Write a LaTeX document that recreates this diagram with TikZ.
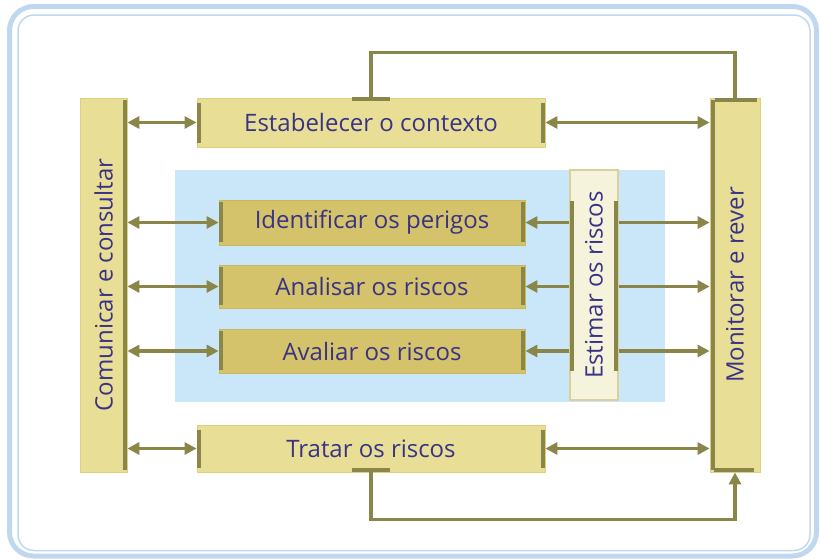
\documentclass[tikz,border=0pt]{standalone}
\usepackage{fontspec}
\setmainfont{Open Sans}
\usepackage{graphicx}
\usetikzlibrary{arrows.meta,calc}
\definecolor{boxL}{HTML}{E9DE95}
\definecolor{boxLE}{HTML}{DCD07E}
\definecolor{boxD}{HTML}{D4C36A}
\definecolor{boxDE}{HTML}{C9B85C}
\definecolor{barC}{HTML}{8A8549}
\definecolor{skyC}{HTML}{C9E7F8}
\definecolor{estF}{HTML}{F6F3DD}
\definecolor{estE}{HTML}{D9D09A}
\definecolor{txtC}{HTML}{3A3385}
\definecolor{frameC}{HTML}{BFD8EF}
\begin{document}
\begin{tikzpicture}[x=1pt,y=-1pt,
  basebox/.style={inner sep=0pt, line width=0.8pt, text=txtC, font=\fontsize{24}{27}\selectfont},
  lbox/.style={basebox, fill=boxL, draw=boxLE},
  dbox/.style={basebox, fill=boxD, draw=boxDE},
  ebox/.style={basebox, fill=estF, draw=estE, line width=1.2pt},
  barline/.style={draw=barC, line width=4pt},
  conn/.style={draw=barC, line width=3.5pt},
  both/.style={conn, {Triangle[length=12pt,width=12pt]}-{Triangle[length=12pt,width=12pt]}},
  toend/.style={conn, -{Triangle[length=12pt,width=12pt]}}]
\useasboundingbox (0,0) rectangle (820,558);
% frame
\draw[frameC, line width=5pt, rounded corners=24pt] (9.5,6.5) rectangle (816.5,556);
\draw[frameC, line width=1.5pt, rounded corners=16pt] (18,15) rectangle (810,550.5);
% blue area
\fill[skyC] (175,170) rectangle (665,402);
% boxes
\node[lbox, minimum width=47pt, minimum height=374pt] (com) at (103.5,285) {\rotatebox{90}{Comunicar e consultar}};
\node[lbox, minimum width=50pt, minimum height=374pt] (mon) at (735,285) {\rotatebox{90}{Monitorar e rever}};
\node[lbox, minimum width=348pt, minimum height=49pt] (est) at (371,122.5) {Estabelecer o contexto};
\node[lbox, minimum width=348pt, minimum height=47pt] (trt) at (371,448.5) {Tratar os riscos};
\node[dbox, minimum width=306pt, minimum height=45pt] (idf) at (372,222.5) {Identificar os perigos};
\node[dbox, minimum width=306pt, minimum height=43pt] (ana) at (372,286.5) {Analisar os riscos};
\node[dbox, minimum width=306pt, minimum height=44pt] (ava) at (372,351) {Avaliar os riscos};
\node[ebox, minimum width=48pt, minimum height=230pt] (estim) at (594,285) {\rotatebox{90}{Estimar os riscos}};
% bars
\draw[barline] ($(com.north east)+(-2,2)$) -- ($(com.south east)+(-2,-2)$);
\draw[barline] ($(mon.north west)+(3,2)$) -- ($(mon.south west)+(3,-2)$);
\draw[barline] ($(mon.north west)+(5,2)$) -- ($(mon.north east)+(-3,2)$);
\draw[barline] ($(mon.south west)+(4,-2)$) -- ($(mon.south east)+(-6,-2)$);
\foreach \b in {est,trt}{
  \draw[barline] ($(\b.north west)+(2.5,5)$) -- ($(\b.south west)+(2.5,-4)$);
  \draw[barline] ($(\b.north east)+(-2.5,5)$) -- ($(\b.south east)+(-2.5,-4)$);
}
\draw[barline] ($(est.north)+(-19,1.5)$) -- ($(est.north)+(19,1.5)$);
\draw[barline] ($(trt.south)+(-19,-2)$) -- ($(trt.south)+(19,-2)$);
\foreach \b in {idf,ana,ava}{
  \draw[barline] ($(\b.north west)+(2.5,2)$) -- ($(\b.south west)+(2.5,-3)$);
  \draw[barline] ($(\b.north east)+(-2.5,2)$) -- ($(\b.south east)+(-2.5,-3)$);
}
\draw[barline] ($(estim.north west)+(3,32)$) -- ($(estim.south west)+(3,-30)$);
\draw[barline] ($(estim.north east)+(-3,32)$) -- ($(estim.south east)+(-3,-30)$);
% connectors
\draw[both] (com.east |- est.west) -- (est.west);
\draw[both] (est.east) -- (mon.west |- est.east);
\draw[both] (com.east |- trt.west) -- (trt.west);
\draw[both] (trt.east) -- (mon.west |- trt.east);
\foreach \b in {idf,ana,ava}{
  \draw[both] (com.east |- \b.west) -- (\b.west);
  \draw[toend] (estim.west |- \b.east) -- (\b.east);
  \draw[toend] (estim.east |- \b.east) -- (mon.west |- \b.east);
}
\draw[conn] (mon.north) -- ++(0,-45) -| (est.north);
\draw[toend] (trt.south) -- ++(0,47) -| (mon.south);
\end{tikzpicture}
\end{document}
